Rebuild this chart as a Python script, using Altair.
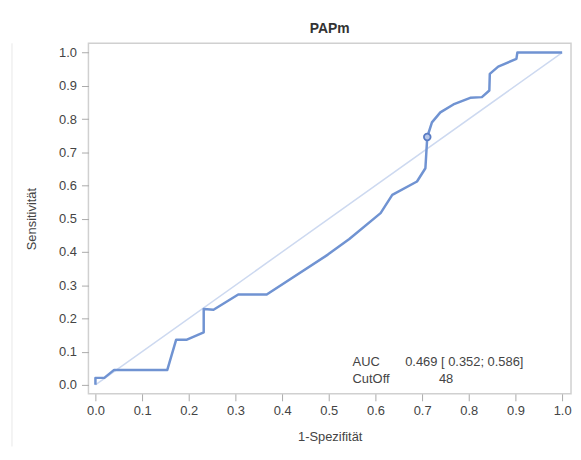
import altair as alt
import pandas as pd

# ROC curve points
fpr = [0.0, 0.0, 0.019, 0.04, 0.154, 0.173, 0.196, 0.232, 0.232, 0.253, 0.306, 0.367,
       0.498, 0.544, 0.611, 0.636, 0.689, 0.707, 0.711, 0.721, 0.739, 0.767, 0.803,
       0.828, 0.844, 0.845, 0.863, 0.902, 0.904, 1.0]
tpr = [0.0, 0.021, 0.021, 0.045, 0.045, 0.136, 0.136, 0.158, 0.228, 0.226, 0.272, 0.272,
       0.392, 0.439, 0.517, 0.572, 0.612, 0.652, 0.746, 0.79, 0.82, 0.844, 0.864,
       0.866, 0.886, 0.936, 0.958, 0.981, 1.0, 1.0]
diag_vals = [0.0, 1.0]
cut_fpr = [0.711]
cut_tpr = [0.746]
tick_vals = [0.0, 0.1, 0.2, 0.3, 0.4, 0.5, 0.6, 0.7, 0.8, 0.9, 1.0]
inset_labels = ["AUC", "CutOff"]
inset_values = ["0.469 [ 0.352; 0.586]", "48"]
chart_title = "PAPm"
x_title = "1-Spezifität"
y_title = "Sensitivität"

FONT = "Liberation Sans"
TXT = "#444444"
CURVE = "#7093d2"
DIAG = "#cdd9f0"
FRAME = "#d0d0d0"

roc = pd.DataFrame({"fpr": fpr, "tpr": tpr, "idx": list(range(len(fpr)))})
diag = pd.DataFrame({"fpr": diag_vals, "tpr": diag_vals})
cut = pd.DataFrame({"fpr": cut_fpr, "tpr": cut_tpr})
inset = pd.DataFrame({"lab": inset_labels, "val": inset_values})

xscale = alt.Scale(domain=[-0.015, 1.019], nice=False, zero=False)
yscale = alt.Scale(domain=[-0.027, 1.028], nice=False, zero=False)

xaxis = alt.Axis(values=tick_vals, format=".1f", title=x_title, grid=False, domain=False,
                 tickSize=7, tickColor="#aaaaaa", labelPadding=4, labelFont=FONT,
                 labelFontSize=13, labelColor=TXT, titleFont=FONT, titleFontSize=13,
                 titleFontWeight="normal", titleColor=TXT, titleY=43, titleBaseline="middle",
                 labelOverlap=False)
yaxis = alt.Axis(values=tick_vals, format=".1f", title=y_title, grid=False, domain=False,
                 tickSize=7, tickColor="#aaaaaa", labelPadding=5, labelFont=FONT,
                 labelFontSize=13, labelColor=TXT, titleFont=FONT, titleFontSize=13,
                 titleFontWeight="normal", titleColor=TXT, titleX=-57, titleBaseline="middle",
                 labelOverlap=False)

X = alt.X("fpr:Q", scale=xscale, axis=xaxis)
Y = alt.Y("tpr:Q", scale=yscale, axis=yaxis)

diag_layer = alt.Chart(diag).mark_line(color=DIAG, strokeWidth=1.5).encode(x=X, y=Y)

roc_layer = alt.Chart(roc).mark_line(color=CURVE, strokeWidth=2.5, strokeJoin="round").encode(
    x=X, y=Y, order="idx:Q")

cut_layer = alt.Chart(cut).mark_point(shape="circle", filled=False, size=45, strokeWidth=1.8,
                                      color="#5a7cc4", fill="#b8c8ea", fillOpacity=1).encode(
    x=X, y=Y)

text_style = dict(align="left", baseline="middle", font=FONT, fontSize=13, color=TXT)
lab1 = alt.Chart(inset.iloc[[0]]).mark_text(**text_style).encode(
    x=alt.value(266), y=alt.value(321), text="lab:N")
lab2 = alt.Chart(inset.iloc[[1]]).mark_text(**text_style).encode(
    x=alt.value(266), y=alt.value(338), text="lab:N")
val1 = alt.Chart(inset.iloc[[0]]).mark_text(**text_style).encode(
    x=alt.value(319), y=alt.value(321), text="val:N")
val2 = alt.Chart(inset.iloc[[1]]).mark_text(**text_style).encode(
    x=alt.value(353), y=alt.value(338), text="val:N")

# faint page border line on the left of the screenshot
border = alt.Chart(pd.DataFrame({"k": [0]})).mark_rule(color="#e8e8e8", strokeWidth=1).encode(
    x=alt.value(-77), y=alt.value(0), y2=alt.value(406))

chart = alt.layer(diag_layer, roc_layer, cut_layer, lab1, lab2, val1, val2, border).properties(
    width=486, height=353,
    title=alt.TitleParams(chart_title, font=FONT, fontSize=14, fontWeight="bold",
                          color="#333333", offset=7, anchor="middle"),
    autosize=alt.AutoSizeParams(type="none"),
    padding={"left": 81, "top": 34, "right": 2, "bottom": 53},
    background="white",
).configure_view(stroke=FRAME, strokeWidth=1.5)

chart.save("out.html", embed_options={"renderer": "svg", "actions": False})
